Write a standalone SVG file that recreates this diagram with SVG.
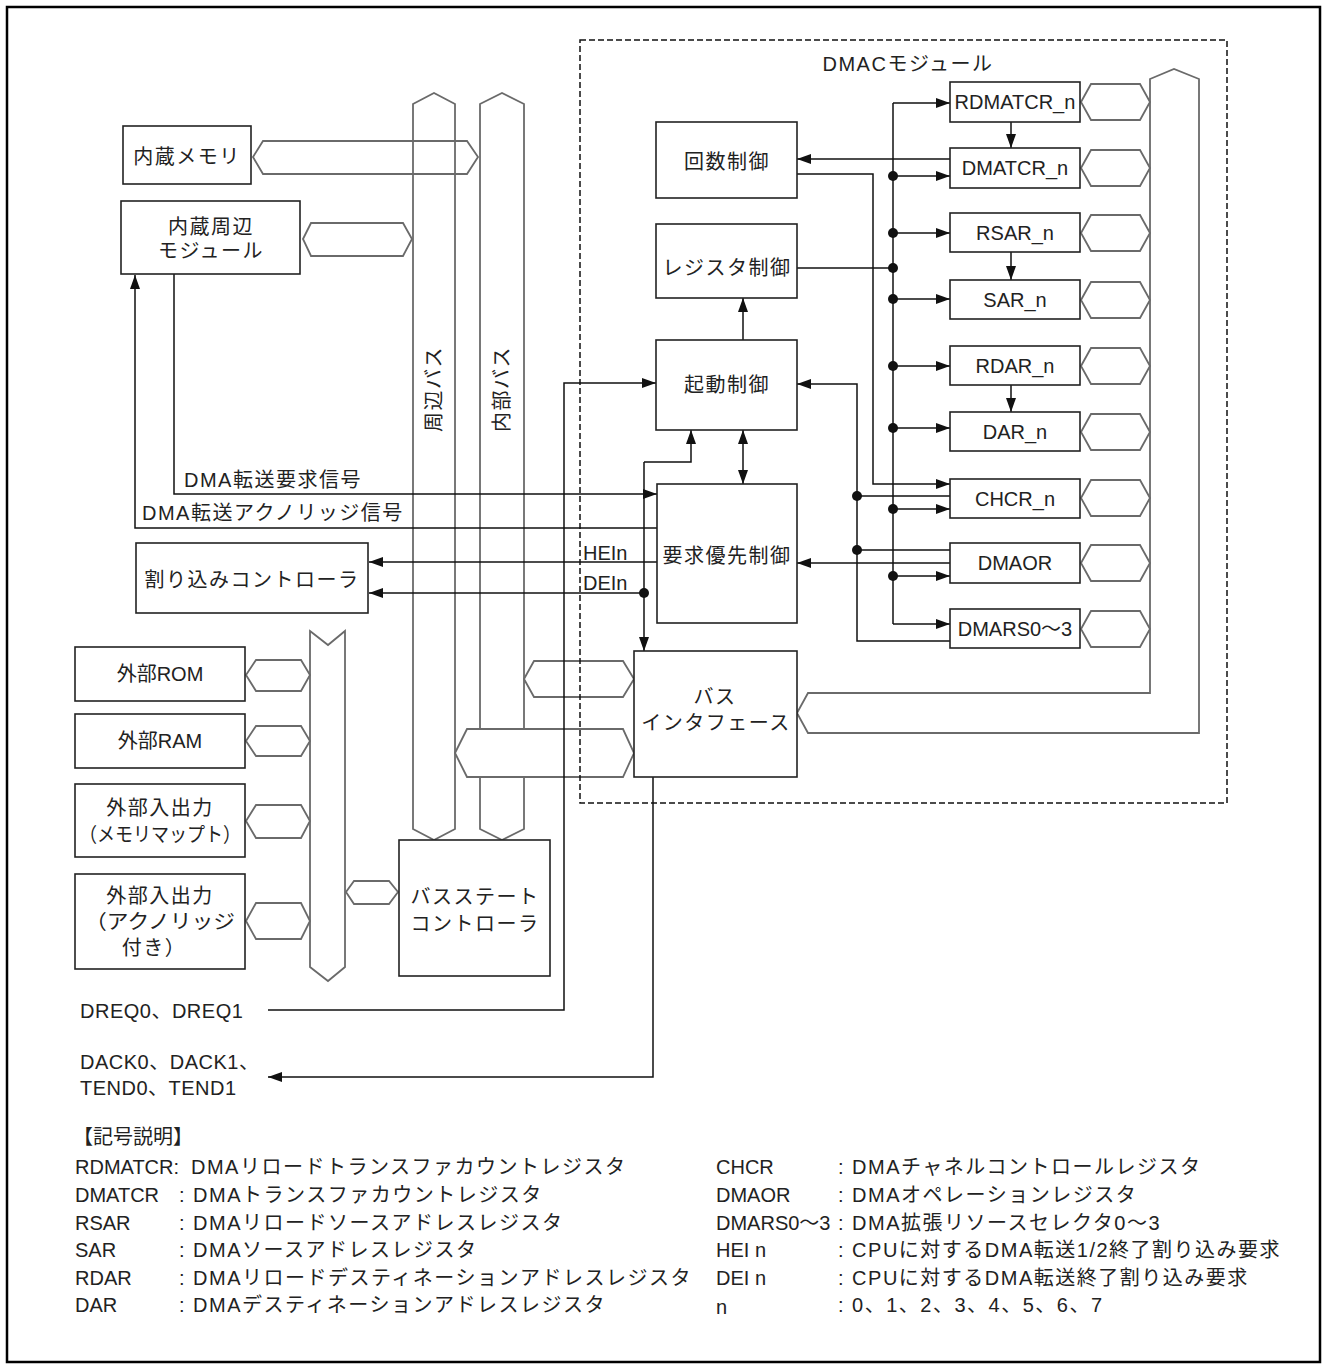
<svg xmlns="http://www.w3.org/2000/svg" width="1327" height="1369" viewBox="0 0 1327 1369">
<style>
.box{fill:#fff;stroke:#222;stroke-width:1.6}
.bus{fill:none;stroke:#6a6a6a;stroke-width:1.8}
.hex{fill:#fff;stroke:#6a6a6a;stroke-width:1.8}
.hexn{fill:none;stroke:#6a6a6a;stroke-width:1.8}
.ln{fill:none;stroke:#111;stroke-width:1.5}
.arr{marker-end:url(#ah)}
.dot{fill:#111}
text{font-family:"Liberation Sans","Noto Sans CJK JP",sans-serif;font-size:20px;fill:#222}
.c{text-anchor:middle}
.j{letter-spacing:1.5px}
</style>
<defs>
<marker id="ah" viewBox="0 0 14 10" refX="14" refY="5" markerWidth="14" markerHeight="10" markerUnits="userSpaceOnUse" orient="auto-start-reverse"><path d="M0,0 L14,5 L0,10 z" fill="#111"/></marker>
</defs>
<rect x="7" y="7" width="1313" height="1355" fill="#fff" stroke="#000" stroke-width="2.5"/>

<g id="buses">
<polygon id="mem-hex" class="hexn" points="253,157 263,141 467,141 478,157 467,174 263,174"/>
<polygon id="periph-bus" class="bus" points="413,104 434,93 455,104 455,829 434,840 413,829"/>
<polygon id="internal-bus" class="bus" points="480,104 502,93 524,104 524,829 502,840 480,829"/>
<polygon id="ext-bus" class="bus" points="310,631 328,645 345,631 345,967 328,981 310,967"/>
<path id="dmac-bus" class="bus" d="M1150,693 L1150,79 L1174,69 L1199,79 L1199,733 L808,733 L797,713 L808,693 Z"/>
<polygon class="hex" points="303,239 311,223 403,223 412,239 403,256 311,256"/>
<polygon class="hex" points="246,675 256,660 301,660 310,675 301,691 256,691"/>
<polygon class="hex" points="246,741 256,726 301,726 310,741 301,756 256,756"/>
<polygon class="hex" points="246,821 256,805 301,805 310,821 301,838 256,838"/>
<polygon class="hex" points="246,921 256,903 301,903 310,921 301,939 256,939"/>
<polygon class="hex" points="346,892 354,881 389,881 398,892 389,904 354,904"/>
<polygon class="hex" points="524,679 534,661 623,661 634,679 623,697 534,697"/>
<polygon class="hex" points="455,753 467,729 623,729 634,753 623,777 467,777"/>
<polygon class="hex" points="1081,102 1091,84 1140,84 1150,102 1140,120 1091,120"/>
<polygon class="hex" points="1081,168 1091,150 1140,150 1150,168 1140,186 1091,186"/>
<polygon class="hex" points="1081,233 1091,215 1140,215 1150,233 1140,251 1091,251"/>
<polygon class="hex" points="1081,300 1091,282 1140,282 1150,300 1140,318 1091,318"/>
<polygon class="hex" points="1081,366 1091,348 1140,348 1150,366 1140,384 1091,384"/>
<polygon class="hex" points="1081,432 1091,414 1140,414 1150,432 1140,450 1091,450"/>
<polygon class="hex" points="1081,498 1091,480 1140,480 1150,498 1140,516 1091,516"/>
<polygon class="hex" points="1081,563 1091,545 1140,545 1150,563 1140,581 1091,581"/>
<polygon class="hex" points="1081,629 1091,611 1140,611 1150,629 1140,647 1091,647"/>
<text class="j" transform="translate(441,432) rotate(-90)">周辺バス</text>
<text class="j" transform="translate(509,432) rotate(-90)">内部バス</text>
</g>

<rect id="dmac" x="580" y="40" width="647" height="763" fill="none" stroke="#111" stroke-width="1.5" stroke-dasharray="6 3"/>
<text class="c j" x="908" y="71">DMACモジュール</text>

<g id="connectors">
<path class="ln arr" d="M657,528 H135 V275"/>
<path class="ln arr" d="M174,274 V494 H657"/>
<path class="ln arr" d="M657,562 H369"/>
<path class="ln arr" d="M644,593 H369"/>
<path class="ln arr" d="M644,462 V651"/>
<path class="ln arr" d="M644,462 H691 V430"/>
<path class="ln arr" d="M268,1010 H564 V383 H656"/>
<path class="ln arr" d="M653,777 V1077 H268"/>
<path class="ln arr" d="M743,340 V298"/>
<path class="ln" d="M743,430 V484" marker-start="url(#ah)" marker-end="url(#ah)"/>
<path class="ln arr" d="M950,159 H797"/>
<path class="ln arr" d="M797,174 H873 V484 H950"/>
<path class="ln" d="M893,103 V624"/>
<path class="ln arr" d="M893,103 H950"/>
<path class="ln arr" d="M893,176 H950"/>
<path class="ln arr" d="M893,233 H950"/>
<path class="ln arr" d="M893,299 H950"/>
<path class="ln arr" d="M893,366 H950"/>
<path class="ln arr" d="M893,428 H950"/>
<path class="ln arr" d="M893,509 H950"/>
<path class="ln arr" d="M893,576 H950"/>
<path class="ln arr" d="M893,624 H950"/>
<path class="ln" d="M797,268 H893"/>
<path class="ln arr" d="M950,641 H857 V384 H797"/>
<path class="ln" d="M950,496 H857"/>
<path class="ln" d="M950,550 H857"/>
<path class="ln arr" d="M950,563 H797"/>
<path class="ln arr" d="M1011,122 V148"/>
<path class="ln arr" d="M1011,252 V280"/>
<path class="ln arr" d="M1011,385 V412"/>
<circle class="dot" cx="893" cy="176" r="5"/>
<circle class="dot" cx="893" cy="233" r="5"/>
<circle class="dot" cx="893" cy="268" r="5"/>
<circle class="dot" cx="893" cy="299" r="5"/>
<circle class="dot" cx="893" cy="366" r="5"/>
<circle class="dot" cx="893" cy="428" r="5"/>
<circle class="dot" cx="893" cy="509" r="5"/>
<circle class="dot" cx="893" cy="576" r="5"/>
<circle class="dot" cx="857" cy="496" r="5"/>
<circle class="dot" cx="857" cy="550" r="5"/>
<circle class="dot" cx="644" cy="593" r="5"/>
</g>

<g id="n-mem"><rect class="box" x="123" y="126" width="128" height="58"/><text class="c j" x="187" y="164">内蔵メモリ</text></g>
<g id="n-periph"><rect class="box" x="121" y="201" width="179" height="73"/><text class="c j" x="211" y="234">内蔵周辺</text><text class="c j" x="211" y="258">モジュール</text></g>
<g id="n-intc"><rect class="box" x="136" y="543" width="232" height="70"/><text class="c j" x="252" y="587">割り込みコントローラ</text></g>
<g id="n-rom"><rect class="box" x="75" y="647" width="170" height="54"/><text class="c" x="160" y="681">外部ROM</text></g>
<g id="n-ram"><rect class="box" x="75" y="714" width="170" height="54"/><text class="c" x="160" y="748">外部RAM</text></g>
<g id="n-io1"><rect class="box" x="75" y="784" width="170" height="73"/><text class="c j" x="160" y="815">外部入出力</text><text class="c" x="160" y="842" textLength="162" lengthAdjust="spacingAndGlyphs">（メモリマップト）</text></g>
<g id="n-io2"><rect class="box" x="75" y="874" width="170" height="95"/><text class="c j" x="160" y="903">外部入出力</text><text class="c" x="160" y="929" textLength="150" lengthAdjust="spacingAndGlyphs">（アクノリッジ</text><text class="c j" x="154" y="955">付き）</text></g>
<g id="n-bsc"><rect class="box" x="399" y="840" width="151" height="136"/><text class="c j" x="475" y="904">バスステート</text><text class="c j" x="475" y="931">コントローラ</text></g>
<g id="n-cnt"><rect class="box" x="656" y="122" width="141" height="76"/><text class="c j" x="727" y="169">回数制御</text></g>
<g id="n-regctl"><rect class="box" x="656" y="224" width="141" height="74"/><text class="c j" x="727" y="275">レジスタ制御</text></g>
<g id="n-start"><rect class="box" x="656" y="340" width="141" height="90"/><text class="c j" x="727" y="392">起動制御</text></g>
<g id="n-prio"><rect class="box" x="657" y="484" width="140" height="139"/><text class="c j" x="727" y="563">要求優先制御</text></g>
<g id="n-busif"><rect class="box" x="634" y="651" width="163" height="126"/><text class="c j" x="715" y="704">バス</text><text class="c j" x="716" y="730">インタフェース</text></g>
<g id="n-rdmatcr"><rect class="box" x="950" y="82" width="130" height="40"/><text class="c" x="1015" y="109">RDMATCR_n</text></g>
<g id="n-dmatcr"><rect class="box" x="950" y="148" width="130" height="40"/><text class="c" x="1015" y="175">DMATCR_n</text></g>
<g id="n-rsar"><rect class="box" x="950" y="213" width="130" height="39"/><text class="c" x="1015" y="240">RSAR_n</text></g>
<g id="n-sar"><rect class="box" x="950" y="280" width="130" height="39"/><text class="c" x="1015" y="307">SAR_n</text></g>
<g id="n-rdar"><rect class="box" x="950" y="346" width="130" height="39"/><text class="c" x="1015" y="373">RDAR_n</text></g>
<g id="n-dar"><rect class="box" x="950" y="412" width="130" height="39"/><text class="c" x="1015" y="439">DAR_n</text></g>
<g id="n-chcr"><rect class="box" x="950" y="479" width="130" height="39"/><text class="c" x="1015" y="506">CHCR_n</text></g>
<g id="n-dmaor"><rect class="box" x="950" y="543" width="130" height="40"/><text class="c" x="1015" y="570">DMAOR</text></g>
<g id="n-dmars"><rect class="box" x="950" y="609" width="130" height="39"/><text class="c" x="1015" y="636">DMARS0～3</text></g>

<g id="labels">
<text class="j" x="184" y="487">DMA転送要求信号</text>
<text class="j" x="142" y="520">DMA転送アクノリッジ信号</text>
<text x="583" y="560">HEIn</text>
<text x="583" y="590">DEIn</text>
<text x="80" y="1018" letter-spacing="0.5">DREQ0、DREQ1</text>
<text x="80" y="1069" letter-spacing="0.5">DACK0、DACK1、</text>
<text x="80" y="1095" letter-spacing="0.5">TEND0、TEND1</text>
</g>

<g id="legend">
<text x="73" y="1144">【記号説明】</text>
<text x="75" y="1174">RDMATCR:</text><text class="j" x="191" y="1174">DMAリロードトランスファカウントレジスタ</text>
<text x="75" y="1202">DMATCR</text><text class="j" x="179" y="1202">: DMAトランスファカウントレジスタ</text>
<text x="75" y="1230">RSAR</text><text class="j" x="179" y="1230">: DMAリロードソースアドレスレジスタ</text>
<text x="75" y="1257">SAR</text><text class="j" x="179" y="1257">: DMAソースアドレスレジスタ</text>
<text x="75" y="1285">RDAR</text><text class="j" x="179" y="1285">: DMAリロードデスティネーションアドレスレジスタ</text>
<text x="75" y="1312">DAR</text><text class="j" x="179" y="1312">: DMAデスティネーションアドレスレジスタ</text>
<text x="716" y="1174">CHCR</text><text class="j" x="838" y="1174">: DMAチャネルコントロールレジスタ</text>
<text x="716" y="1202">DMAOR</text><text class="j" x="838" y="1202">: DMAオペレーションレジスタ</text>
<text x="716" y="1230">DMARS0～3</text><text class="j" x="838" y="1230">: DMA拡張リソースセレクタ0～3</text>
<text x="716" y="1257">HEI n</text><text class="j" x="838" y="1257">: CPUに対するDMA転送1/2終了割り込み要求</text>
<text x="716" y="1285">DEI n</text><text class="j" x="838" y="1285">: CPUに対するDMA転送終了割り込み要求</text>
<text x="716" y="1314">n</text><text class="j" x="838" y="1312">: 0、1、2、3、4、5、6、7</text>
</g>
</svg>
